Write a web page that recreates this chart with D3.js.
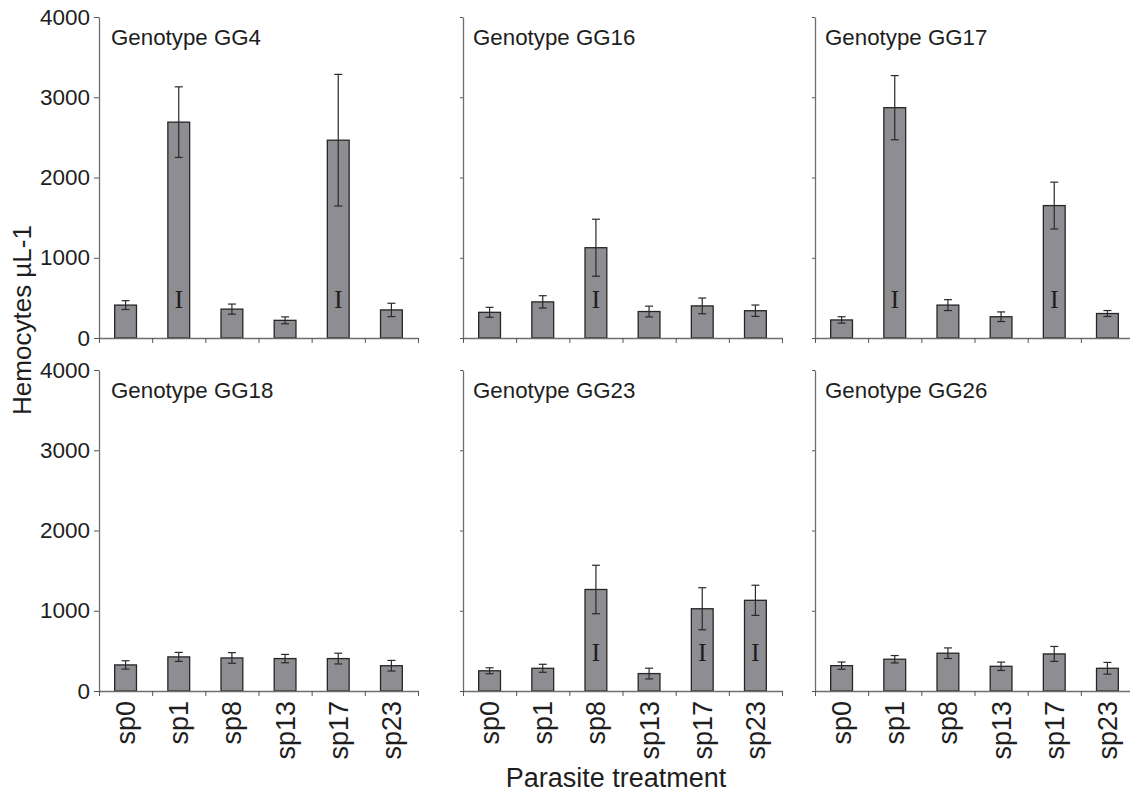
<!DOCTYPE html>
<html>
<head>
<meta charset="utf-8">
<script src="https://cdn.jsdelivr.net/npm/d3@7"></script>
<style>
  body { margin: 0; background: #fff; }
  text { font-family: "Liberation Sans", Arial, sans-serif; fill: #1e1e1e; }
</style>
</head>
<body>
<div id="chart"></div>
<script>
const genotypes = ["GG4", "GG16", "GG17", "GG18", "GG23", "GG26"];
const treatments = ["sp0", "sp1", "sp8", "sp13", "sp17", "sp23"];
const yTicks = [0, 1000, 2000, 3000, 4000];

// mean hemocytes per genotype, in treatment order
const meanGG4  = [410, 2690, 360, 220, 2465, 350];
const meanGG16 = [320, 450, 1125, 330, 400, 340];
const meanGG17 = [225, 2870, 410, 265, 1650, 305];
const meanGG18 = [325, 425, 412, 404, 404, 315];
const meanGG23 = [252, 283, 1265, 217, 1025, 1130];
const meanGG26 = [316, 396, 471, 308, 462, 283];

// error (± half-length of the bars)
const errGG4  = [55, 440, 63, 43, 820, 83];
const errGG16 = [62, 77, 355, 67, 98, 71];
const errGG17 = [40, 400, 68, 60, 292, 37];
const errGG18 = [52, 56, 66, 52, 67, 66];
const errGG23 = [37, 50, 302, 67, 262, 188];
const errGG26 = [45, 46, 66, 52, 93, 73];

// treatments carrying the small "I" mark inside the bar
const markGG4  = ["sp1", "sp17"];
const markGG16 = ["sp8"];
const markGG17 = ["sp1", "sp17"];
const markGG18 = [];
const markGG23 = ["sp8", "sp17", "sp23"];
const markGG26 = [];

const means = [meanGG4, meanGG16, meanGG17, meanGG18, meanGG23, meanGG26];
const errs = [errGG4, errGG16, errGG17, errGG18, errGG23, errGG26];
const marks = [markGG4, markGG16, markGG17, markGG18, markGG23, markGG26];

const width = 1130,
      height = 803;

const colLeft = [99, 463, 815],
      rowTop = [17, 370],
      pw = 319,
      ph = 321;

const svg = d3.select('#chart')
    .append('svg')
    .attr('width', width)
    .attr('height', height);

const xScale = d3.scaleBand()
    .domain(treatments)
    .range([0, pw]);

const edgeScale = d3.scaleLinear()
    .domain([0, treatments.length])
    .range([0, pw]);

const yScale = d3.scaleLinear()
    .domain([0, 4000])
    .range([ph, 0]);

const bw = xScale.bandwidth();
const barW = bw * 0.41;

genotypes.forEach((g, i) => {
    const col = i % 3,
          row = Math.floor(i / 3);

    const data = treatments.map((t, j) => ({
        t: t,
        mean: means[i][j],
        err: errs[i][j],
        mark: marks[i].includes(t)
    }));

    const panel = svg.append('g')
        .attr('transform', `translate(${colLeft[col]}, ${rowTop[row]})`);

    // bars
    panel.selectAll('rect')
        .data(data)
        .enter().append('rect')
        .attr('x', d => xScale(d.t) + (bw - barW) / 2)
        .attr('width', barW)
        .attr('y', d => yScale(d.mean))
        .attr('height', d => yScale(0) - yScale(d.mean))
        .attr('fill', '#8e8e92')
        .attr('stroke', '#262626')
        .attr('stroke-width', 1.3);

    // error bars
    const eb = panel.selectAll('.eb')
        .data(data)
        .enter().append('g')
        .attr('class', 'eb')
        .attr('stroke', '#2a2a2a')
        .attr('stroke-width', 1.2);

    eb.append('line')
        .attr('x1', d => xScale(d.t) + bw / 2)
        .attr('x2', d => xScale(d.t) + bw / 2)
        .attr('y1', d => yScale(d.mean - d.err))
        .attr('y2', d => yScale(d.mean + d.err));

    eb.append('line')
        .attr('x1', d => xScale(d.t) + bw / 2 - 4)
        .attr('x2', d => xScale(d.t) + bw / 2 + 4)
        .attr('y1', d => yScale(d.mean + d.err))
        .attr('y2', d => yScale(d.mean + d.err));

    eb.append('line')
        .attr('x1', d => xScale(d.t) + bw / 2 - 4)
        .attr('x2', d => xScale(d.t) + bw / 2 + 4)
        .attr('y1', d => yScale(d.mean - d.err))
        .attr('y2', d => yScale(d.mean - d.err));

    // "I" marks
    panel.selectAll('.mark')
        .data(data.filter(d => d.mark))
        .enter().append('text')
        .attr('class', 'mark')
        .attr('x', d => xScale(d.t) + bw / 2)
        .attr('y', yScale(0) - 30)
        .attr('text-anchor', 'middle')
        .style('font-family', '"Liberation Serif", "Times New Roman", serif')
        .style('font-size', '26px')
        .text('I');

    // y axis
    const yAxis = d3.axisLeft(yScale)
        .tickValues(yTicks)
        .tickSize(col === 0 ? 5 : 3)
        .tickSizeOuter(0)
        .tickPadding(4)
        .tickFormat(col === 0 ? d3.format('d') : '');

    const ya = panel.append('g').call(yAxis);
    ya.select('.domain').attr('stroke', '#6e6e6e').attr('stroke-width', 1.3);
    ya.selectAll('.tick line').attr('stroke', '#555');
    ya.selectAll('.tick text')
        .style('font-size', '22.5px')
        .attr('fill', '#1e1e1e');

    // x axis (ticks at band edges)
    const xAxis = d3.axisBottom(edgeScale)
        .ticks(treatments.length)
        .tickSize(5)
        .tickSizeOuter(0)
        .tickFormat('');

    const xa = panel.append('g')
        .attr('transform', `translate(0, ${ph})`)
        .call(xAxis);
    xa.select('.domain').attr('stroke', '#6e6e6e').attr('stroke-width', 1.3);
    xa.selectAll('.tick line').attr('stroke', '#555');

    // category labels only on the bottom row
    if (row === 1) {
        panel.selectAll('.xlab')
            .data(treatments)
            .enter().append('text')
            .attr('class', 'xlab')
            .attr('transform', d => `translate(${xScale(d) + bw / 2}, ${ph + 10}) rotate(-90)`)
            .attr('text-anchor', 'end')
            .attr('dy', '0.35em')
            .style('font-size', '27px')
            .text(d => d);
    }

    panel.append('text')
        .attr('x', col === 0 ? 12 : 10)
        .attr('y', 28)
        .style('font-size', '22.3px')
        .text('Genotype ' + g);
});

svg.append('text')
    .attr('transform', 'translate(31, 320) rotate(-90)')
    .attr('text-anchor', 'middle')
    .style('font-size', '26px')
    .text('Hemocytes µL-1');

svg.append('text')
    .attr('x', 616)
    .attr('y', 787)
    .attr('text-anchor', 'middle')
    .style('font-size', '27px')
    .text('Parasite treatment');
</script>
</body>
</html>
